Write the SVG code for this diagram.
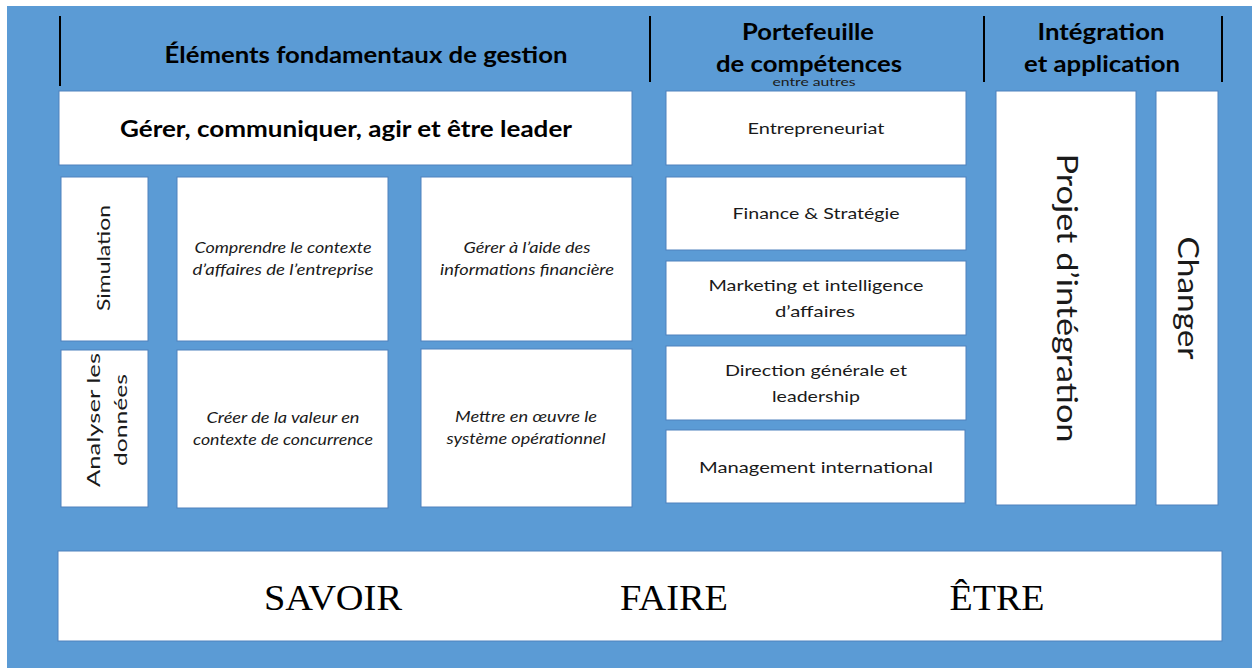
<svg xmlns="http://www.w3.org/2000/svg" width="1252" height="668" viewBox="0 0 1252 668">
<style>
.bg{fill:#5B9BD5}
.box{fill:#ffffff;stroke:#4F81BD;stroke-width:1}
.sep{stroke:#000000;stroke-width:2}
text{font-family:Lato,"Open Sans","Liberation Sans",sans-serif;fill:#1a1a1a}
.hd{font-size:22px;font-weight:bold;text-anchor:middle;fill:#000}
.bd{font-size:16px;text-anchor:middle}
.it{font-size:15px;font-style:italic;text-anchor:middle}
.sm{font-size:11px;text-anchor:middle}
.rot{font-size:18px;text-anchor:middle}
.big{font-size:28px;text-anchor:middle}
.serif{font-family:"Liberation Serif","Times New Roman",serif;font-size:36px;text-anchor:middle;fill:#000}
</style>
<rect x="0" y="0" width="1252" height="668" fill="#ffffff"/>
<rect class="bg" x="7" y="6" width="1245" height="662"/>

<g id="separators">
<line class="sep" x1="60" y1="16" x2="60" y2="86"/>
<line class="sep" x1="650" y1="16" x2="650" y2="82"/>
<line class="sep" x1="984" y1="16" x2="984" y2="82"/>
<line class="sep" x1="1222" y1="16" x2="1222" y2="82"/>
</g>

<g id="header-elements">
<text class="hd" x="366" y="63" textLength="403" lengthAdjust="spacingAndGlyphs">Éléments fondamentaux de gestion</text>
</g>
<g id="header-portefeuille">
<text class="hd" x="808" y="40" textLength="132" lengthAdjust="spacingAndGlyphs">Portefeuille</text>
<text class="hd" x="809" y="72" textLength="186" lengthAdjust="spacingAndGlyphs">de compétences</text>
<text class="sm" x="814" y="86" textLength="83" lengthAdjust="spacingAndGlyphs">entre autres</text>
</g>
<g id="header-integration">
<text class="hd" x="1101" y="40" textLength="127" lengthAdjust="spacingAndGlyphs">Intégration</text>
<text class="hd" x="1102" y="72" textLength="156" lengthAdjust="spacingAndGlyphs">et application</text>
</g>

<g id="gerer">
<rect class="box" x="59" y="91" width="573" height="74"/>
<text class="hd" x="346" y="137" textLength="452" lengthAdjust="spacingAndGlyphs">Gérer, communiquer, agir et être leader</text>
</g>

<g id="simulation">
<rect class="box" x="61" y="177" width="87" height="164"/>
<text class="rot" transform="translate(110,258) rotate(-90)" textLength="106" lengthAdjust="spacingAndGlyphs">Simulation</text>
</g>
<g id="comprendre">
<rect class="box" x="177" y="177" width="211" height="164"/>
<text class="it" x="283" y="253" textLength="177" lengthAdjust="spacingAndGlyphs">Comprendre le contexte</text>
<text class="it" x="283" y="275" textLength="181" lengthAdjust="spacingAndGlyphs">d’affaires de l’entreprise</text>
</g>
<g id="gerer-info">
<rect class="box" x="421" y="177" width="211" height="164"/>
<text class="it" x="527" y="253" textLength="127" lengthAdjust="spacingAndGlyphs">Gérer à l’aide des</text>
<text class="it" x="527" y="275" textLength="174" lengthAdjust="spacingAndGlyphs">informations financière</text>
</g>
<g id="analyser">
<rect class="box" x="61" y="350" width="87" height="157"/>
<text class="rot" transform="translate(100,420) rotate(-90)" textLength="134" lengthAdjust="spacingAndGlyphs">Analyser les</text>
<text class="rot" transform="translate(127,420) rotate(-90)" textLength="92" lengthAdjust="spacingAndGlyphs">données</text>
</g>
<g id="creer">
<rect class="box" x="177" y="350" width="211" height="158"/>
<text class="it" x="283" y="423" textLength="153" lengthAdjust="spacingAndGlyphs">Créer de la valeur en</text>
<text class="it" x="283" y="445" textLength="180" lengthAdjust="spacingAndGlyphs">contexte de concurrence</text>
</g>
<g id="mettre">
<rect class="box" x="421" y="349" width="211" height="158"/>
<text class="it" x="526" y="422" textLength="142" lengthAdjust="spacingAndGlyphs">Mettre en œuvre le</text>
<text class="it" x="526" y="444" textLength="159" lengthAdjust="spacingAndGlyphs">système opérationnel</text>
</g>

<g id="entrepreneuriat">
<rect class="box" x="666" y="91" width="300" height="74"/>
<text class="bd" x="816" y="134" textLength="137" lengthAdjust="spacingAndGlyphs">Entrepreneuriat</text>
</g>
<g id="finance">
<rect class="box" x="666" y="177" width="300" height="73"/>
<text class="bd" x="816" y="219" textLength="167" lengthAdjust="spacingAndGlyphs">Finance &amp; Stratégie</text>
</g>
<g id="marketing">
<rect class="box" x="666" y="261" width="300" height="74"/>
<text class="bd" x="816" y="291" textLength="215" lengthAdjust="spacingAndGlyphs">Marketing et intelligence</text>
<text class="bd" x="815" y="317" textLength="80" lengthAdjust="spacingAndGlyphs">d’affaires</text>
</g>
<g id="direction">
<rect class="box" x="666" y="346" width="300" height="74"/>
<text class="bd" x="816" y="376" textLength="182" lengthAdjust="spacingAndGlyphs">Direction générale et</text>
<text class="bd" x="816" y="402" textLength="88" lengthAdjust="spacingAndGlyphs">leadership</text>
</g>
<g id="management">
<rect class="box" x="666" y="430" width="299" height="73"/>
<text class="bd" x="816" y="473" textLength="234" lengthAdjust="spacingAndGlyphs">Management international</text>
</g>

<g id="projet">
<rect class="box" x="996" y="91" width="140" height="414"/>
<text class="big" transform="translate(1057,298) rotate(90)" textLength="289" lengthAdjust="spacingAndGlyphs">Projet d’intégration</text>
</g>
<g id="changer">
<rect class="box" x="1156" y="91" width="62" height="414"/>
<text class="big" transform="translate(1178,298) rotate(90)" textLength="123" lengthAdjust="spacingAndGlyphs">Changer</text>
</g>

<g id="savoir-faire-etre">
<rect class="box" x="58" y="551" width="1164" height="90"/>
<text class="serif" x="333" y="610" textLength="138" lengthAdjust="spacingAndGlyphs">SAVOIR</text>
<text class="serif" x="674" y="610" textLength="108" lengthAdjust="spacingAndGlyphs">FAIRE</text>
<text class="serif" x="997" y="610" textLength="95" lengthAdjust="spacingAndGlyphs">ÊTRE</text>
</g>
</svg>
